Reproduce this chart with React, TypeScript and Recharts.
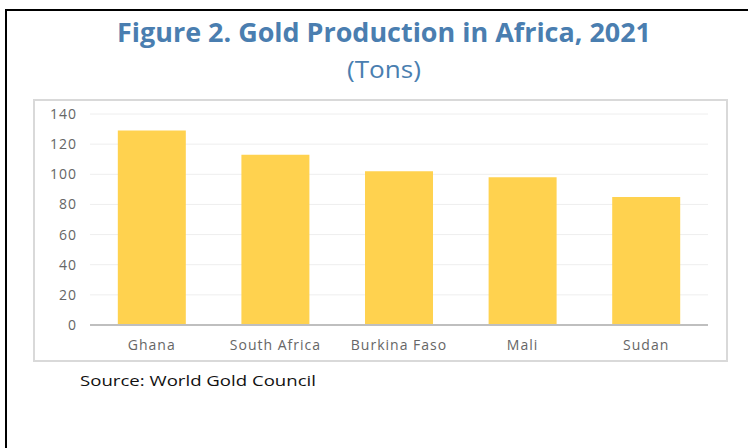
import React from "react";
import { BarChart, Bar, XAxis, YAxis, CartesianGrid } from "recharts";

const countries = ["Ghana", "South Africa", "Burkina Faso", "Mali", "Sudan"];
const production = [129, 113, 102, 98, 85];
const yTicks = [0, 20, 40, 60, 80, 100, 120, 140];

const data = countries.map((c, i) => ({ name: c, value: production[i] }));

const BLUE = "#4a7eb0";
const tickStyle = { fill: "#666666", fontSize: 14, fontFamily: "'Open Sans', sans-serif", letterSpacing: 1 };

export default function App() {
  return (
    <div style={{ position: "absolute", left: 0, top: 0, width: 748, height: 448, overflow: "hidden", background: "#fff" }}>
      <div style={{ position: "absolute", left: 5, top: 9, width: 800, height: 500, border: "2px solid #000", boxSizing: "border-box" }} />
      <svg width={748} height={448} style={{ position: "absolute", left: 0, top: 0 }}>
        <text x={384} y={42} textAnchor="middle" fontFamily="'Open Sans', sans-serif" fontWeight={700} fontSize={27} fill={BLUE} textLength={534} lengthAdjust="spacingAndGlyphs">
          Figure 2. Gold Production in Africa, 2021
        </text>
        <text x={384} y={78} textAnchor="middle" fontFamily="'Open Sans', sans-serif" fontSize={24} fill={BLUE} textLength={74} lengthAdjust="spacingAndGlyphs">
          (Tons)
        </text>
        <text x={80} y={386} fontFamily="'Open Sans', sans-serif" fontSize={15} fill="#111" textLength={236} lengthAdjust="spacingAndGlyphs">
          Source: World Gold Council
        </text>
      </svg>
      <div style={{ position: "absolute", left: 33, top: 99, width: 695, height: 263, border: "2px solid #d9d9d9", boxSizing: "border-box" }} />
      <div style={{ position: "absolute", left: 33, top: 99 }}>
        <BarChart width={695} height={263} data={data} margin={{ top: 15, right: 20, bottom: 0, left: 17 }} barCategoryGap="22.5%">
          <CartesianGrid vertical={false} stroke="#eeeeee" strokeWidth={1} />
          <XAxis
            dataKey="name"
            axisLine={{ stroke: "#bfbfbf", strokeWidth: 2 }}
            tickLine={false}
            tick={tickStyle}
            tickMargin={9}
            height={37}
            interval={0}
          />
          <YAxis
            domain={[0, 140]}
            ticks={yTicks}
            axisLine={false}
            tickLine={false}
            tick={tickStyle}
            tickMargin={7}
            width={40}
            interval={0}
          />
          <Bar dataKey="value" fill="#ffd24f" isAnimationActive={false} />
        </BarChart>
      </div>
    </div>
  );
}
